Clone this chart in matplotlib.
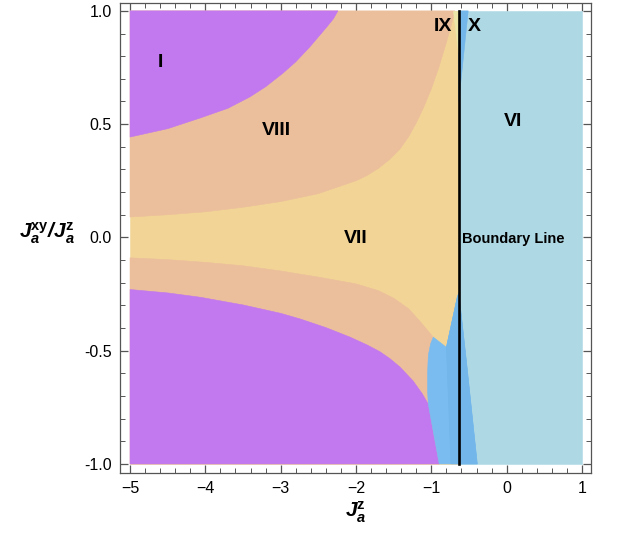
import matplotlib
matplotlib.use("Agg")
import matplotlib.pyplot as plt
from matplotlib.ticker import MultipleLocator, FormatStrFormatter

plt.rcParams['font.family'] = ['Liberation Sans', 'DejaVu Sans']
plt.rcParams['mathtext.fontset'] = 'custom'
plt.rcParams['mathtext.rm'] = 'Liberation Sans'
plt.rcParams['mathtext.it'] = 'Liberation Sans:italic'
plt.rcParams['mathtext.bf'] = 'Liberation Sans:bold'
plt.rcParams['mathtext.bfit'] = 'Liberation Sans:italic:bold'

# ---- phase boundaries ----
# purple region I (top left), lower edge
i_top_x = [-5.0, -4.5, -4.07, -3.7, -3.41, -3.2, -2.97, -2.8, -2.61, -2.5, -2.385, -2.3, -2.24]
i_top_y = [0.443, 0.48, 0.527, 0.57, 0.62, 0.665, 0.725, 0.775, 0.842, 0.885, 0.93, 0.965, 1.0]

# VII / VIII boundary, upper branch
vii_up_x = [-5.0, -4.5, -4.0, -3.5, -3.0, -2.5, -2.0, -1.86, -1.7, -1.55, -1.416, -1.3,
            -1.2, -1.1, -1.0, -0.9, -0.8, -0.74, -0.686]
vii_up_y = [0.09, 0.10, 0.113, 0.133, 0.158, 0.193, 0.25, 0.272, 0.305, 0.345, 0.39, 0.445,
            0.505, 0.575, 0.655, 0.75, 0.86, 0.93, 1.0]

# VII / VIII boundary, lower branch (ends where blue region starts)
vii_lo_x = [-5.0, -4.5, -4.0, -3.5, -3.0, -2.5, -2.0, -1.7, -1.5, -1.3, -1.15, -0.974]
vii_lo_y = [-0.09, -0.098, -0.11, -0.125, -0.148, -0.175, -0.205, -0.235, -0.268, -0.315, -0.37, -0.44]

# purple region I (bottom), upper edge down to the axis
i_bot_x = [-5.0, -4.5, -4.07, -3.5, -3.0, -2.74, -2.4, -2.08, -1.85, -1.68, -1.55, -1.416,
           -1.243, -1.12, -1.04, -0.97, -0.895]
i_bot_y = [-0.23, -0.245, -0.264, -0.298, -0.335, -0.36, -0.398, -0.44, -0.475, -0.505, -0.535,
           -0.572, -0.633, -0.69, -0.736, -0.87, -1.0]

# region X, lower part (outline)
x_lo_x = [-0.974, -0.80, -0.656, -0.635, -0.53, -0.39, -0.895, -1.04, -1.05, -1.05, -1.04, -1.01]
x_lo_y = [-0.44, -0.485, -0.264, -0.245, -0.56, -1.0, -1.0, -0.736, -0.68, -0.6, -0.52, -0.47]
# darker spike inside it
spike_x = [-0.80, -0.656, -0.635, -0.53, -0.39, -0.74]
spike_y = [-0.485, -0.264, -0.245, -0.56, -1.0, -1.0]

# region X, upper sliver
x_up_x = [-0.635, -0.51, -0.635]
x_up_y = [1.0, 1.0, 0.6]

# region IX sliver
ix_x = [-0.71, -0.64, -0.64]
ix_y = [1.0, 1.0, 0.82]

boundary_x = -0.635

labels = ['I', 'VIII', 'VII', 'IX', 'X', 'VI']
label_x = [-4.60, -3.05, -2.01, -0.845, -0.433, 0.084]
label_y = [0.774, 0.47, -0.006, 0.93, 0.93, 0.513]

c_purple = '#c278ee'
c_salmon = '#ecbf9c'
c_yellow = '#f2d596'
c_blue = '#7abcef'
c_blue2 = '#72b6ea'
c_light = '#afd8e5'
c_ix = '#ebe6a8'

fig = plt.figure(figsize=(6.18, 5.36), dpi=100)
ax = fig.add_axes([0.1942, 0.1175, 0.7621, 0.877])


def patch(xs, ys, color, z):
    ax.fill(xs, ys, facecolor=color, edgecolor=color, lw=0.4, zorder=z)


# base: yellow VII everywhere left of boundary
patch([-5, boundary_x, boundary_x, -5], [-1, -1, 1, 1], c_yellow, 1)
# VIII upper / lower
patch(vii_up_x + [-5.0], vii_up_y + [1.0], c_salmon, 2)
patch(vii_lo_x + [-1.04, -0.895, -5.0], vii_lo_y + [-0.736, -1.0, -1.0], c_salmon, 2)
# I upper / lower
patch(i_top_x + [-5.0], i_top_y + [1.0], c_purple, 3)
patch(i_bot_x + [-5.0], i_bot_y + [-1.0], c_purple, 3)
# VI
patch([boundary_x, 1, 1, boundary_x], [-1, -1, 1, 1], c_light, 3)
# X and IX
patch(x_lo_x, x_lo_y, c_blue, 4)
patch(spike_x, spike_y, c_blue2, 5)
patch(x_up_x, x_up_y, c_blue2, 4)
patch(ix_x, ix_y, c_ix, 4)

ax.plot([boundary_x, boundary_x], [-1, 1], color='black', lw=1.9, zorder=6)

for t, lx, ly in zip(labels, label_x, label_y):
    ax.text(lx, ly, t, fontsize=14, fontweight='bold', ha='center', va='center', zorder=7)
ax.text(-0.59, -0.009, 'Boundary Line', fontsize=10.5, fontweight='bold',
        ha='left', va='center', zorder=7)

ax.set_xlim(-5.133, 1.12)
ax.set_ylim(-1.04, 1.035)
ax.xaxis.set_major_locator(MultipleLocator(1))
ax.xaxis.set_minor_locator(MultipleLocator(0.2))
ax.yaxis.set_major_locator(MultipleLocator(0.5))
ax.yaxis.set_minor_locator(MultipleLocator(0.1))
ax.yaxis.set_major_formatter(FormatStrFormatter('%.1f'))
ax.tick_params(which='both', direction='in', top=True, right=True, color='#555555')
ax.tick_params(which='major', length=6, width=0.9, labelsize=11.5, pad=6)
ax.tick_params(which='minor', length=3.5, width=0.7)
for s in ax.spines.values():
    s.set_color('#555555')
    s.set_linewidth(0.9)

ax.set_xlabel(r'$\mathbfit{J}_{\mathbfit{a}}^{\mathbf{z}}$', fontsize=15, labelpad=2)
ax.set_ylabel(r'$\mathbfit{J}_{\mathbfit{a}}^{\mathbf{xy}}\mathbfit{/J}_{\mathbfit{a}}^{\mathbf{z}}$',
              fontsize=15, rotation=0, ha='center', va='center')
ax.yaxis.set_label_coords(-0.156, 0.51)

fig.savefig('out.png', dpi=100)
